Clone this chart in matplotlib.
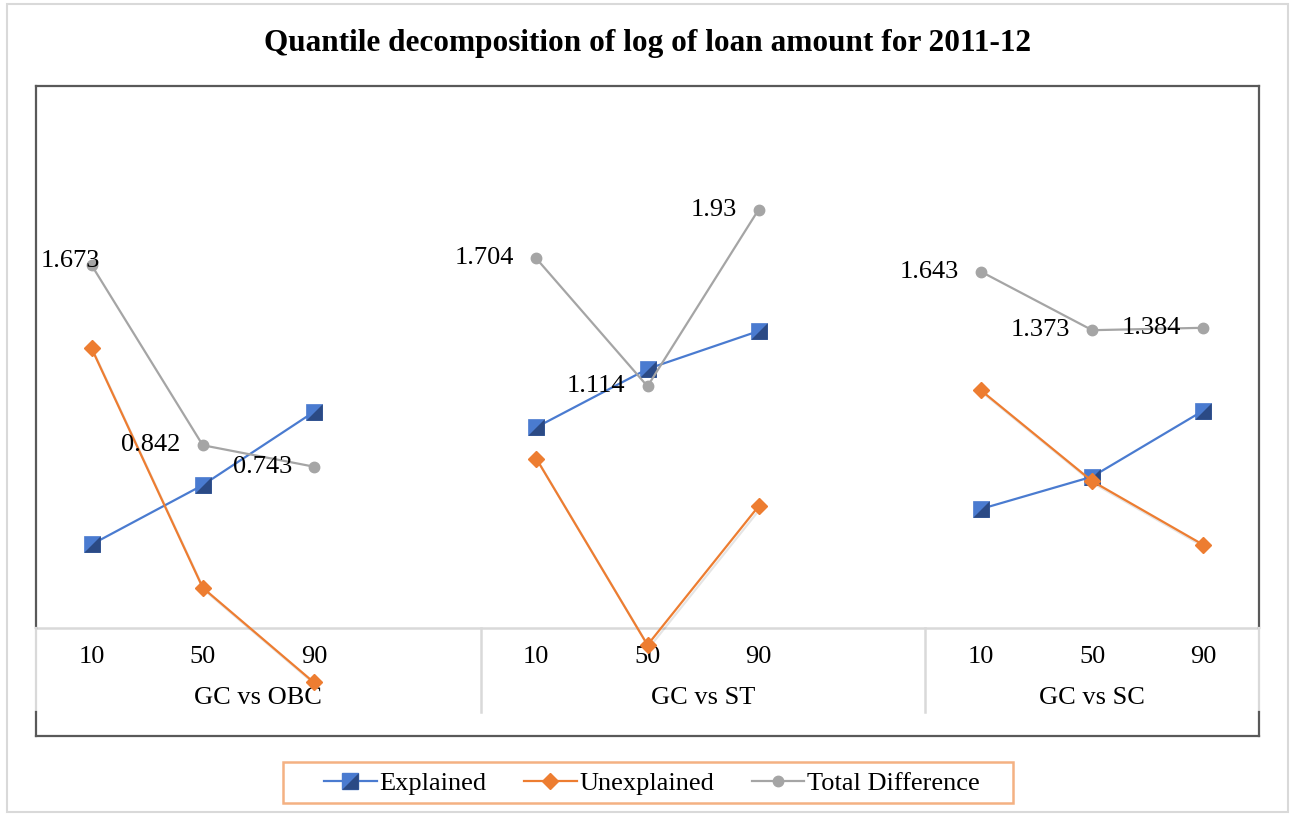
import matplotlib
matplotlib.use('Agg')
import matplotlib.pyplot as plt
import matplotlib.patheffects as pe
import matplotlib.transforms as mtransforms
from matplotlib.lines import Line2D
from matplotlib.patches import Rectangle
from matplotlib.legend_handler import HandlerTuple

plt.rcParams['font.family'] = ['Liberation Serif', 'DejaVu Serif']

# decomposition results, three quantiles per comparison
groups = ['GC vs OBC', 'GC vs ST', 'GC vs SC']
quantiles = ['10', '50', '90']
explained = [0.384, 0.658, 0.996, 0.925, 1.194, 1.369, 0.548, 0.697, 1.002]
unexplained = [1.289, 0.184, -0.253, 0.780, -0.080, 0.561, 1.095, 0.676, 0.382]
total_diff = [1.673, 0.842, 0.743, 1.704, 1.114, 1.93, 1.643, 1.373, 1.384]

BLUE, BLUE_DARK = '#4A7BD0', '#2B4A85'
ORANGE = '#ED7D31'
GREY = '#A5A5A5'
BOX = '#595959'
LIGHT = '#D9D9D9'
FS = 19

W, H = 1295, 814
fig = plt.figure(figsize=(W / 100, H / 100), dpi=100)
fig.patches.append(Rectangle((7 / W, 2 / H), 1281 / W, 808 / H, transform=fig.transFigure,
                             fill=False, edgecolor=LIGHT, lw=1.5))

ax = fig.add_axes([36 / W, (H - 736) / H, 1223 / W, 650 / H])
ax.set_xlim(-0.5, 10.5)
ax.set_ylim(-0.5, 2.5)
ax.set_xticks([])
ax.set_yticks([])
for s in ax.spines.values():
    s.set_visible(False)

# x slot of each point: 3 quantiles per group plus a blank slot between groups
xs = [g * 4 + q for g in range(len(groups)) for q in range(len(quantiles))]

shadow = [pe.SimpleLineShadow(offset=(1.2, -1.8), alpha=0.1), pe.Normal()]
lower_right = [(-1, -1), (1, -1), (1, 1), (-1, -1)]

for g in range(len(groups)):
    sl = slice(g * 3, g * 3 + 3)
    gx = xs[sl]
    ax.plot(gx, explained[sl], color=BLUE, lw=1.6, zorder=3)
    ax.plot(gx, explained[sl], ls='none', marker='s', ms=12, mfc=BLUE, mec=BLUE, mew=0.5, zorder=3)
    ax.plot(gx, explained[sl], ls='none', marker=lower_right, ms=12, mfc=BLUE_DARK, mew=0, zorder=3)
    ax.plot(gx, unexplained[sl], color=ORANGE, lw=1.6, zorder=4, path_effects=shadow)
    ax.plot(gx, unexplained[sl], ls='none', marker='D', ms=8.5, mfc=ORANGE, mec=ORANGE, zorder=4)
    ax.plot(gx, total_diff[sl], color=GREY, lw=1.6, marker='o', ms=7.5, mfc=GREY, mec=GREY, zorder=5)

# value labels for the total difference
for i, (x, v) in enumerate(zip(xs, total_diff)):
    if i == 0:
        ax.annotate(f'{v:g}', (x, v), xytext=(-51, 4), textcoords='offset pixels',
                    ha='left', va='center', fontsize=FS, zorder=6)
    else:
        ax.annotate(f'{v:g}', (x, v), xytext=(-22, 0), textcoords='offset pixels',
                    ha='right', va='center', fontsize=FS, zorder=6)

# category axis at zero with two-level labels
blend = mtransforms.blended_transform_factory(ax.transData, ax.transAxes)
y0 = 0.5 / 3
ycat = 0.111 / 3
ax.axhline(0, color=LIGHT, lw=1.8, zorder=1)
for sep in [3.5, 7.5]:
    ax.plot([sep, sep], [y0, ycat], transform=blend, color=LIGHT, lw=1.8, clip_on=False)
for x, g in zip(xs, [quantiles[i % 3] for i in range(len(xs))]):
    ax.text(x, 0.1215, g, transform=blend, ha='center', va='center', fontsize=FS)
for g, name in enumerate(groups):
    lo = g * 4 - 0.5
    hi = min(g * 4 + 3.5, 10.5)
    ax.text((lo + hi) / 2, 0.0585, name, transform=blend, ha='center', va='center', fontsize=FS)

# outer frame of the plot area, light where the category axis sits
frame = dict(transform=ax.transAxes, clip_on=False, solid_capstyle='projecting')
ax.plot([0, 1], [1, 1], color=BOX, lw=1.6, **frame)
ax.plot([0, 1], [0, 0], color=BOX, lw=1.6, **frame)
for xe in [0, 1]:
    ax.plot([xe, xe], [y0, 1], color=BOX, lw=1.6, **frame)
    ax.plot([xe, xe], [ycat, y0], color=LIGHT, lw=1.6, **frame)
    ax.plot([xe, xe], [0, ycat], color=BOX, lw=1.6, **frame)

fig.text(0.5, 1 - 43 / H, 'Quantile decomposition of log of loan amount for 2011-12',
         ha='center', va='center', fontsize=22.5, fontweight='bold')

h_exp = (Line2D([], [], color=BLUE, lw=1.6, marker='s', ms=12, mfc=BLUE, mec=BLUE),
         Line2D([], [], ls='none', marker=lower_right, ms=12, mfc=BLUE_DARK, mew=0))
h_une = Line2D([], [], color=ORANGE, lw=1.6, marker='D', ms=8.5, mfc=ORANGE, mec=ORANGE)
h_tot = Line2D([], [], color=GREY, lw=1.6, marker='o', ms=7.5, mfc=GREY, mec=GREY)
fig.legend([h_exp, h_une, h_tot], ['Explained', 'Unexplained', 'Total Difference'],
           handler_map={tuple: HandlerTuple(ndivide=1)},
           loc='center', bbox_to_anchor=(652 / W, 1 - 783 / H), ncol=3,
           fontsize=FS, frameon=False, handlelength=2.0,
           handletextpad=0.12, columnspacing=1.4, borderpad=0, borderaxespad=0)
# legend box drawn separately so it can be wider than tall padding allows
fig.patches.append(Rectangle((283 / W, (H - 803) / H), 730 / W, 41 / H, transform=fig.transFigure,
                             fill=False, edgecolor='#F4B183', lw=1.8))

fig.savefig('out.png', dpi=100)
